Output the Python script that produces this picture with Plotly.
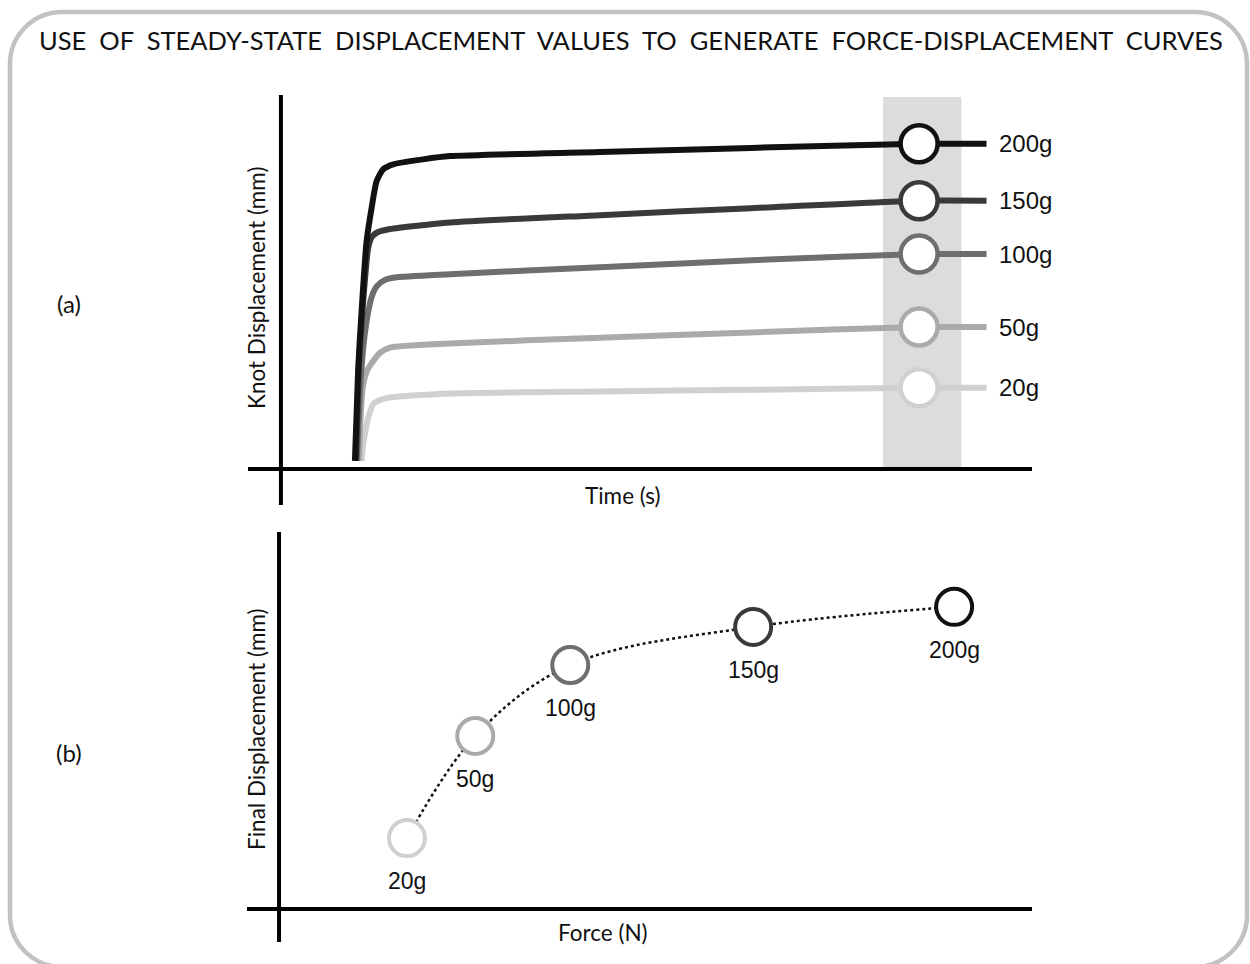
import plotly.graph_objects as go

# ---------------- data ----------------
loads = ["20g", "50g", "100g", "150g", "200g"]
load_colors = ["#d0d0d0", "#aaaaaa", "#6e6e6e", "#3a3a3a", "#111111"]

# (a) knot displacement vs time (arbitrary units)
time_20 = [10.29, 10.46, 10.71, 11.10, 11.77, 12.63, 13.90, 21.56, 40.7, 60.0, 81.4, 90.0]
disp_20 = [1.95, 5.6, 8.5, 12.2, 15.8, 16.8, 17.4, 18.4, 18.9, 19.3, 19.8, 19.8]
time_50 = [9.95, 10.20, 10.50, 10.97, 11.77, 12.63, 13.90, 21.56, 40.7, 60.0, 81.4, 90.0]
disp_50 = [1.95, 14.1, 20.7, 23.9, 26.3, 28.3, 29.6, 30.6, 32.0, 33.3, 34.6, 34.6]
time_100 = [9.69, 10.08, 10.59, 11.10, 11.61, 12.24, 13.27, 14.54, 21.56, 40.7, 60.0, 81.4, 90.0]
disp_100 = [1.95, 19.0, 31.2, 38.0, 42.2, 44.6, 46.1, 46.7, 47.5, 49.2, 50.9, 52.4, 52.4]
time_150 = [9.57, 9.95, 10.40, 11.14, 11.61, 12.21, 13.90, 21.56, 40.7, 60.0, 81.4, 90.0]
disp_150 = [1.95, 24.9, 38.5, 54.0, 56.6, 57.6, 58.5, 60.1, 61.9, 63.6, 65.4, 65.4]
time_200 = [9.44, 9.86, 10.29, 10.93, 11.57, 12.21, 13.05, 14.32, 18.11, 21.56, 40.7, 60.0, 81.4, 90.0]
disp_200 = [1.95, 24.7, 38.5, 55.6, 63.7, 70.2, 73.1, 74.3, 75.5, 76.3, 77.3, 78.3, 79.3, 79.3]

times = [time_20, time_50, time_100, time_150, time_200]
disps = [disp_20, disp_50, disp_100, disp_150, disp_200]

steady_time = 81.4
steady_window = [76.8, 86.8]
label_time = 91.3

# (b) final displacement vs force (arbitrary units)
force = [16.3, 25.0, 37.1, 60.4, 86.0]
final_disp = [17.3, 42.2, 59.5, 68.8, 73.7]

title_words = ["USE", "OF", "STEADY-STATE", "DISPLACEMENT", "VALUES", "TO", "GENERATE",
               "FORCE-DISPLACEMENT", "CURVES"]

W, H = 1250, 964
TXT = "Lato"
NUM = "Liberation Sans"


def px(x):
    return x / W


def py(y):
    return 1 - y / H


fig = go.Figure()

# ---------- panel (a) ----------
for t, d, c in zip(times, disps, load_colors):
    fig.add_trace(go.Scatter(x=t, y=d, mode="lines", line=dict(color=c, width=6, shape="spline", smoothing=0.6),
                             xaxis="x", yaxis="y", hoverinfo="skip", showlegend=False))
for t, d, c, lab in zip(times, disps, load_colors, loads):
    ss = d[t.index(steady_time)]
    fig.add_trace(go.Scatter(x=[steady_time], y=[ss], mode="markers",
                             marker=dict(size=37, color="white", line=dict(color=c, width=4.5)),
                             xaxis="x", yaxis="y", showlegend=False, cliponaxis=False))
    fig.add_annotation(x=label_time, y=ss, xref="x", yref="y", text=lab, showarrow=False,
                       xanchor="left", yanchor="middle", font=dict(family=NUM, size=24, color="#111111"))

# ---------- panel (b) ----------
fig.add_trace(go.Scatter(x=force, y=final_disp, mode="lines",
                         line=dict(color="#111111", width=2.5, dash="dot", shape="spline", smoothing=1.0),
                         xaxis="x2", yaxis="y2", showlegend=False, hoverinfo="skip"))
fig.add_trace(go.Scatter(x=force, y=final_disp, mode="markers",
                         marker=dict(size=36, color="white", line=dict(color=load_colors, width=4)),
                         xaxis="x2", yaxis="y2", showlegend=False, cliponaxis=False))
for f, d, lab in zip(force, final_disp, loads):
    fig.add_annotation(x=f, y=d, xref="x2", yref="y2", text=lab, showarrow=False, yshift=-43,
                       xanchor="center", yanchor="middle", font=dict(family=NUM, size=23, color="#111111"))

shapes = []
# grey steady-state window
shapes.append(dict(type="rect", xref="x", yref="y", x0=steady_window[0], x1=steady_window[1], y0=0, y1=90.7,
                   fillcolor="#dcdcdc", line=dict(width=0), layer="below"))
# crossing axes
for xr, yr in (("x", "y"), ("x2", "y2")):
    shapes.append(dict(type="line", xref=xr, yref=yr + " domain", x0=0, x1=0, y0=0, y1=1,
                       line=dict(color="black", width=4)))
    shapes.append(dict(type="line", xref=xr + " domain", yref=yr, x0=0, x1=1, y0=0, y1=0,
                       line=dict(color="black", width=4)))

# rounded border
L, T, R, B, r = 10, 12, 1247, 967, 52
k = 0.5523 * r
path = (f"M {px(L + r)},{py(T)} L {px(R - r)},{py(T)} "
        f"C {px(R - r + k)},{py(T)} {px(R)},{py(T + r - k)} {px(R)},{py(T + r)} "
        f"L {px(R)},{py(B - r)} "
        f"C {px(R)},{py(B - r + k)} {px(R - r + k)},{py(B)} {px(R - r)},{py(B)} "
        f"L {px(L + r)},{py(B)} "
        f"C {px(L + r - k)},{py(B)} {px(L)},{py(B - r + k)} {px(L)},{py(B - r)} "
        f"L {px(L)},{py(T + r)} "
        f"C {px(L)},{py(T + r - k)} {px(L + r - k)},{py(T)} {px(L + r)},{py(T)} Z")
shapes.append(dict(type="path", xref="paper", yref="paper", path=path, line=dict(color="#c2c2c2", width=4.5)))

title_text = "\u00a0 ".join(title_words)
ann_font = dict(family=TXT, color="#111111")
texts = [
    (title_text, px(631), py(40), 0, 25.5),
    ("(a)", px(69), py(303), 0, 24),
    ("(b)", px(69), py(752), 0, 24),
    ("Time (s)", px(623), py(496), 0, 22.5),
    ("Force (N)", px(603), py(932), 0, 22.5),
    ("Knot Displacement (mm)", px(256), py(288), -90, 22.5),
    ("Final Displacement (mm)", px(256), py(729), -90, 22.5),
]
for txt, x, y, ang, sz in texts:
    fig.add_annotation(x=x, y=y, xref="paper", yref="paper", text=txt, showarrow=False, textangle=ang,
                       xanchor="center", yanchor="middle", font=dict(size=sz, **ann_font))

ax_common = dict(showgrid=False, zeroline=False, showticklabels=False, ticks="", showline=False, fixedrange=True)
fig.update_layout(
    width=W, height=H, margin=dict(l=0, r=0, t=0, b=0),
    paper_bgcolor="white", plot_bgcolor="rgba(0,0,0,0)",
    xaxis=dict(domain=[px(248), px(1032)], range=[-4.2, 95.8], anchor="y", **ax_common),
    yaxis=dict(domain=[py(505), py(95)], range=[-8.8, 91.2], anchor="x", **ax_common),
    xaxis2=dict(domain=[px(247), px(1032)], range=[-4.08, 95.92], anchor="y2", **ax_common),
    yaxis2=dict(domain=[py(942), py(532)], range=[-8.05, 91.95], anchor="x2", **ax_common),
    shapes=shapes,
    showlegend=False,
)

fig.write_html("out.html")
